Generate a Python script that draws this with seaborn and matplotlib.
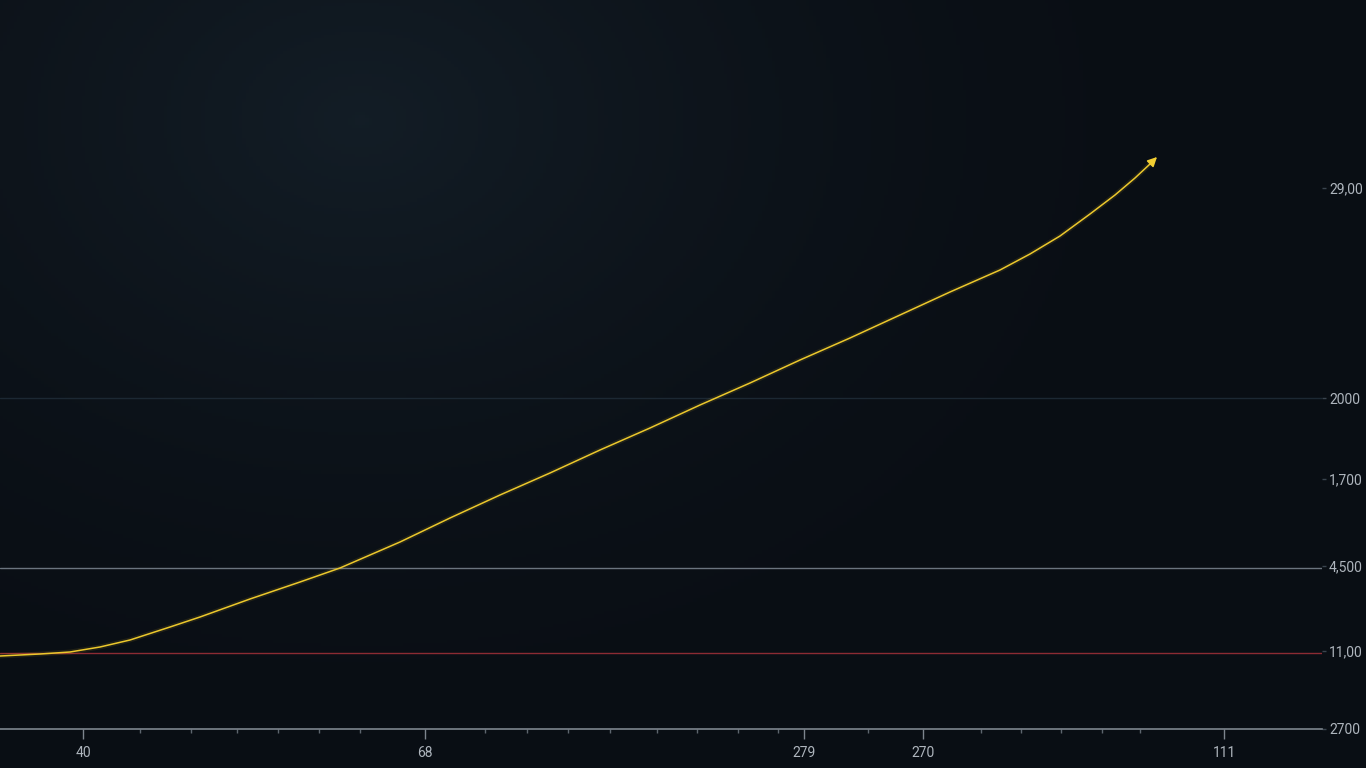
import numpy as np
import matplotlib
matplotlib.use("Agg")
import matplotlib.pyplot as plt
import seaborn as sns

# curve (x in px from left, y in px from top)
curve_x = [0, 40, 70, 100, 130, 170, 200, 250, 300, 340, 400, 450, 500, 550,
           600, 650, 700, 750, 800, 850, 900, 950, 1000, 1030, 1060, 1090, 1115, 1135, 1150]
curve_y = [656, 654, 652, 647, 640, 627, 617, 599, 582, 568, 542, 518, 495, 473,
           450, 428, 405, 383, 360, 338, 315, 292, 270, 254, 236, 214, 195, 178, 164]
arrow_tip = (1157, 157)

# x axis ticks
x_major_pos = [83, 425, 804, 923, 1224]
x_major_labels = ["40", "68", "279", "270", "111"]
x_minor_pos = [140, 191, 237, 278, 319, 360, 485, 527, 568, 610, 657, 697, 738,
               778, 868, 981, 1021, 1061, 1102, 1140]

# right hand labels
y_label_pos = [188, 398, 479, 566, 651, 729]
y_labels = ["29,00", "2000", "1,700", "4,500", "11,00", "2700"]

# reference lines
faint_line_y = 398
grey_line_y = 568
red_line_y = 653
axis_line_y = 729

sns.set_theme(style="dark")
plt.rcParams['font.family'] = ['Roboto', 'DejaVu Sans']

fig = plt.figure(figsize=(13.66, 7.68), dpi=100)

# dark background with a soft glow in the upper left
bg = fig.add_axes([0, 0, 1, 1])
gx, gy = np.meshgrid(np.linspace(0, 1366, 400), np.linspace(0, 768, 240))
d = np.sqrt(((gx - 360) / 750) ** 2 + ((gy - 120) / 560) ** 2)
glow = np.clip(1 - d, 0, 1) ** 1.5
base = np.array([0.039, 0.058, 0.082])
light = np.array([0.075, 0.115, 0.150])
img = base + (light - base) * glow[..., None]
bg.imshow(img, extent=(0, 1366, 768, 0), aspect="auto")
bg.axis("off")

ax = fig.add_axes([0, 0, 1322 / 1366, 1])
ax.set_facecolor("none")
ax.set_xlim(0, 1322)
ax.set_ylim(768, 0)

ax.axhline(faint_line_y, color="#1c2833", lw=1.0, zorder=1)
ax.axhline(grey_line_y, color="#6b747e", lw=1.0, zorder=1)
ax.axhline(red_line_y, color="#8c2b33", lw=1.0, zorder=1)

# glow + line
ax.plot(curve_x, curve_y, color="#ecc82c", lw=3.5, alpha=0.10, zorder=2)
sns.lineplot(x=curve_x, y=curve_y, ax=ax, color="#ecc82c", lw=1.1,
             sort=False, estimator=None, zorder=3)
ax.annotate("", xy=arrow_tip, xytext=(curve_x[-1], curve_y[-1]),
            arrowprops=dict(arrowstyle="-|>", color="#f2ce32", lw=1.1,
                            mutation_scale=14, shrinkA=0, shrinkB=0), zorder=4)

for side in ["top", "left", "right"]:
    ax.spines[side].set_visible(False)
ax.spines["bottom"].set_position(("data", axis_line_y))
ax.spines["bottom"].set_color("#7d858e")
ax.spines["bottom"].set_linewidth(1.2)

ax.set_xticks(x_major_pos)
ax.set_xticklabels(x_major_labels)
ax.set_xticks(x_minor_pos, minor=True)
ax.tick_params(axis="x", which="major", bottom=True, direction="out", length=7,
               width=1, color="#7d858e", labelcolor="#aeb5bd", labelsize=10, pad=5)
ax.tick_params(axis="x", which="minor", bottom=True, direction="out", length=3,
               width=1, color="#5d656e")

ax.yaxis.tick_right()
ax.set_yticks(y_label_pos)
ax.set_yticklabels(y_labels)
ax.tick_params(axis="y", right=True, length=3, width=1, color="#3a444e",
               labelcolor="#aeb5bd", labelsize=10, pad=2)
ax.grid(False)
ax.set_xlabel("")
ax.set_ylabel("")

fig.savefig("out.png", dpi=100)
